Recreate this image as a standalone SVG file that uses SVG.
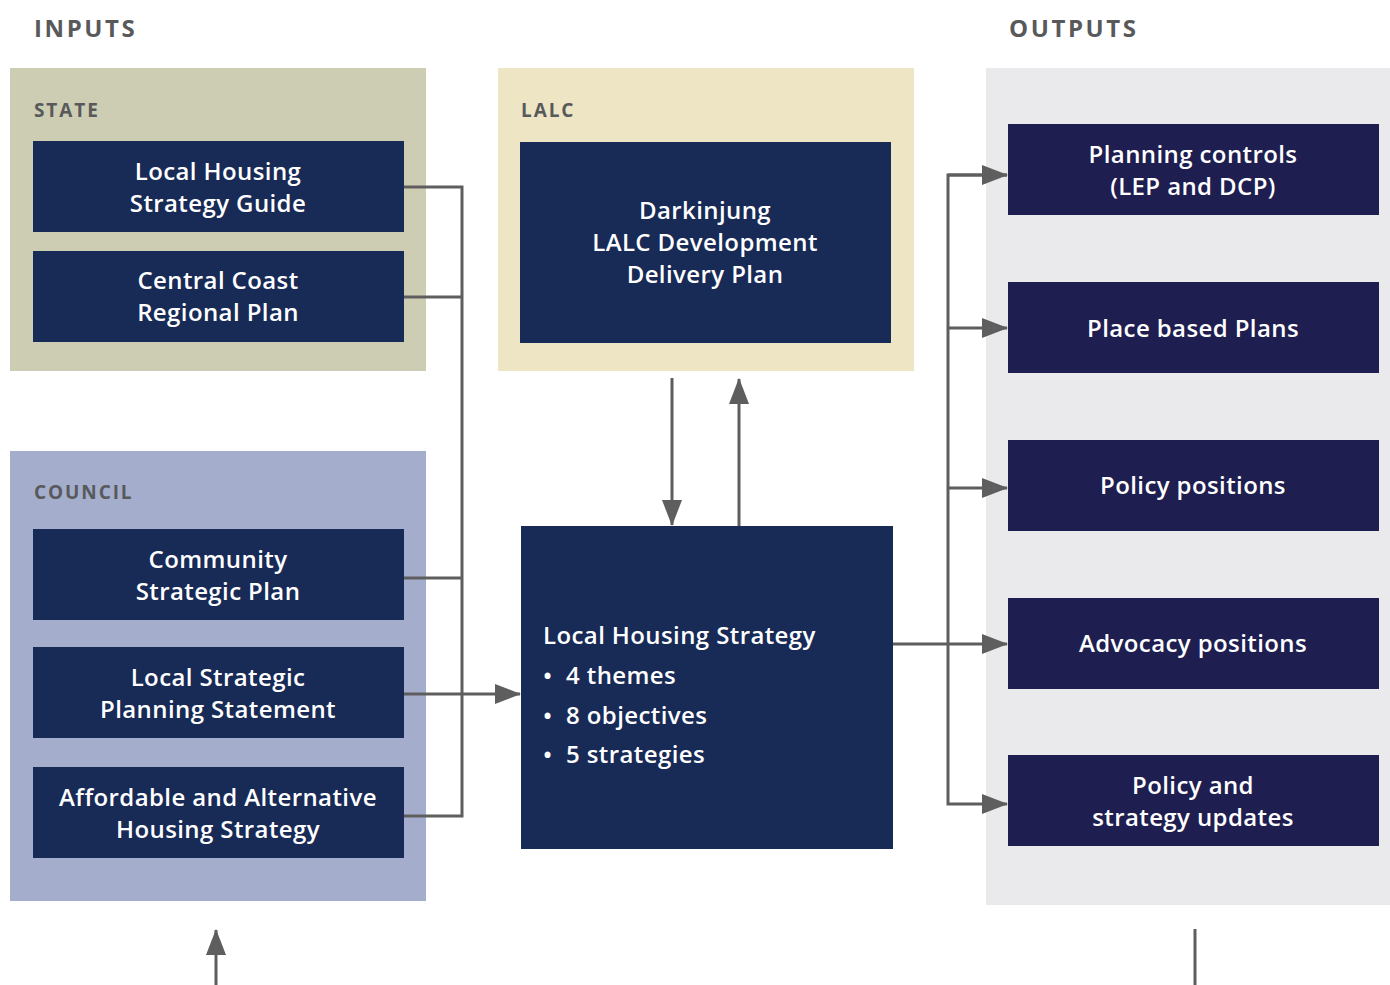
<svg xmlns="http://www.w3.org/2000/svg" width="1390" height="985" viewBox="0 0 1390 985">
<style>
.hdr{font-family:"Open Sans","Liberation Sans",sans-serif;font-weight:700;fill:#58595b;font-size:24px;letter-spacing:2.6px}
.lbl{font-family:"Open Sans","Liberation Sans",sans-serif;font-weight:700;fill:#58595b;font-size:19px;letter-spacing:1.9px}
.box{fill:#182a56}
.obox{fill:#1e1e50}
.t{font-family:"Open Sans","Liberation Sans",sans-serif;font-weight:600;fill:#ffffff;font-size:24px;text-anchor:middle;letter-spacing:0.4px}
.tl{font-family:"Open Sans","Liberation Sans",sans-serif;font-weight:600;fill:#ffffff;font-size:24px;letter-spacing:0.4px}
.ln{fill:none;stroke:#5e5e5e;stroke-width:3}
</style>
<defs>
<marker id="ah" markerUnits="userSpaceOnUse" markerWidth="26" markerHeight="20" refX="25" refY="10" orient="auto">
<path d="M0,0 L26,10 L0,20 Z" fill="#5e5e5e"/>
</marker>
</defs>
<rect width="1390" height="985" fill="#ffffff"/>
<text class="hdr" x="34" y="37">INPUTS</text>
<text class="hdr" x="1009" y="37">OUTPUTS</text>

<g id="panel-state">
<rect x="10" y="68" width="416" height="303" fill="#cdcdb4"/>
<text class="lbl" x="34" y="117">STATE</text>
</g>
<g id="panel-lalc">
<rect x="498" y="68" width="416" height="303" fill="#eee5c5"/>
<text class="lbl" x="521" y="117">LALC</text>
</g>
<g id="panel-council">
<rect x="10" y="451" width="416" height="450" fill="#a5adcd"/>
<text class="lbl" x="34" y="499">COUNCIL</text>
</g>
<g id="panel-outputs">
<rect x="986" y="68" width="404" height="837" fill="#eaeaec"/>
</g>

<g id="connectors">
<path class="ln" d="M404,187 H462 V816 H404"/>
<path class="ln" d="M404,297 H462"/>
<path class="ln" d="M404,578 H462"/>
<path class="ln" d="M404,694 H520" marker-end="url(#ah)"/>
<path class="ln" d="M672,378 V525" marker-end="url(#ah)"/>
<path class="ln" d="M739,526 V379" marker-end="url(#ah)"/>
<path class="ln" d="M893,644 H1007" marker-end="url(#ah)"/>
<path class="ln" d="M1007,175 H948 V804 H1007" marker-end="url(#ah)"/>
<path class="ln" d="M948,175 H1007" marker-end="url(#ah)"/>
<path class="ln" d="M948,328 H1007" marker-end="url(#ah)"/>
<path class="ln" d="M948,488 H1007" marker-end="url(#ah)"/>
<path class="ln" d="M216,985 V930" marker-end="url(#ah)"/>
<path class="ln" d="M1195,929 V985"/>
</g>

<g id="n-lhsg">
<rect class="box" x="33" y="141" width="371" height="91"/>
<text class="t" x="218" y="180">Local Housing</text>
<text class="t" x="218" y="212">Strategy Guide</text>
</g>
<g id="n-ccrp">
<rect class="box" x="33" y="251" width="371" height="91"/>
<text class="t" x="218" y="289">Central Coast</text>
<text class="t" x="218" y="321">Regional Plan</text>
</g>
<g id="n-lalc">
<rect class="box" x="520" y="142" width="371" height="201"/>
<text class="t" x="705" y="219">Darkinjung</text>
<text class="t" x="705" y="251">LALC Development</text>
<text class="t" x="705" y="283">Delivery Plan</text>
</g>
<g id="n-csp">
<rect class="box" x="33" y="529" width="371" height="91"/>
<text class="t" x="218" y="568">Community</text>
<text class="t" x="218" y="600">Strategic Plan</text>
</g>
<g id="n-lsps">
<rect class="box" x="33" y="647" width="371" height="91"/>
<text class="t" x="218" y="686">Local Strategic</text>
<text class="t" x="218" y="718">Planning Statement</text>
</g>
<g id="n-aahs">
<rect class="box" x="33" y="767" width="371" height="91"/>
<text class="t" x="218" y="806">Affordable and Alternative</text>
<text class="t" x="218" y="838">Housing Strategy</text>
</g>
<g id="n-lhs">
<rect class="box" x="521" y="526" width="372" height="323"/>
<text class="tl" x="543" y="644">Local Housing Strategy</text>
<text class="tl" x="543" y="684">•</text>
<text class="tl" x="566" y="684">4 themes</text>
<text class="tl" x="543" y="724">•</text>
<text class="tl" x="566" y="724">8 objectives</text>
<text class="tl" x="543" y="763">•</text>
<text class="tl" x="566" y="763">5 strategies</text>
</g>
<g id="o-pc">
<rect class="obox" x="1008" y="124" width="371" height="91"/>
<text class="t" x="1193" y="163">Planning controls</text>
<text class="t" x="1193" y="195">(LEP and DCP)</text>
</g>
<g id="o-pbp">
<rect class="obox" x="1008" y="282" width="371" height="91"/>
<text class="t" x="1193" y="337">Place based Plans</text>
</g>
<g id="o-pp">
<rect class="obox" x="1008" y="440" width="371" height="91"/>
<text class="t" x="1193" y="494">Policy positions</text>
</g>
<g id="o-ap">
<rect class="obox" x="1008" y="598" width="371" height="91"/>
<text class="t" x="1193" y="652">Advocacy positions</text>
</g>
<g id="o-psu">
<rect class="obox" x="1008" y="755" width="371" height="91"/>
<text class="t" x="1193" y="794">Policy and</text>
<text class="t" x="1193" y="826">strategy updates</text>
</g>
</svg>
